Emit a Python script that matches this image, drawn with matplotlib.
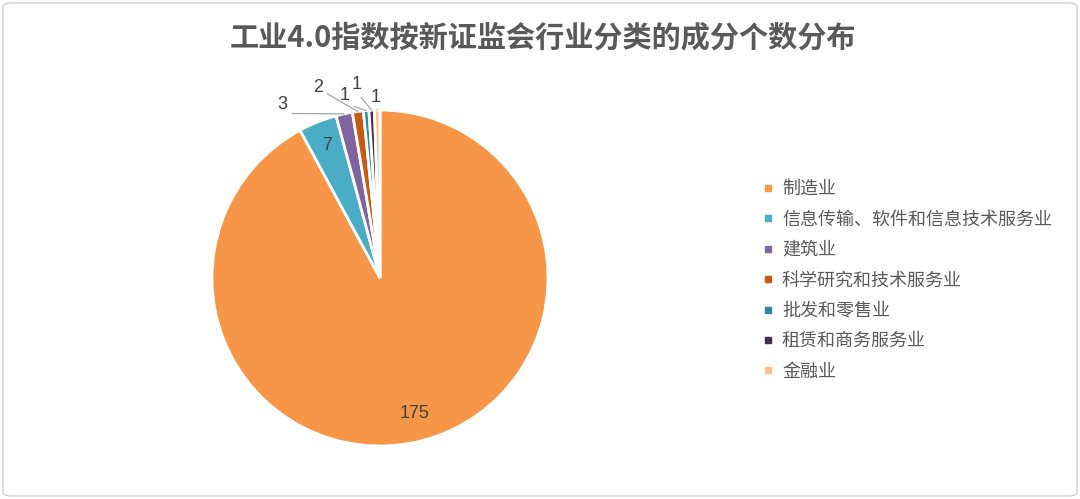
import matplotlib
matplotlib.use('Agg')
import matplotlib.pyplot as plt
from matplotlib.lines import Line2D
from matplotlib.patches import FancyBboxPatch
import numpy as np

plt.rcParams['font.family'] = ['Noto Sans CJK SC', 'DejaVu Sans']

# data
industries = ['制造业', '信息传输、软件和信息技术服务业', '建筑业', '科学研究和技术服务业',
              '批发和零售业', '租赁和商务服务业', '金融业']
counts = [175, 7, 3, 2, 1, 1, 1]
colors = ['#F79646', '#4BACC6', '#8064A2', '#C65A11', '#31859C', '#403152', '#FAC090']
title = '工业4.0指数按新证监会行业分类的成分个数分布'

# where the outside labels sit (pie units); None = inside the wedge
label_pos = [None, None, (-0.58, 1.03), (-0.369, 1.131), (-0.208, 1.089),
             (-0.137, 1.149), (-0.024, 1.077)]
line_from = [None, None, (1, 0), (1, 0.3), (0.6, 0), (0.6, 0), (0.5, 0)]
inside_r = [0.83, 0.85]

W, H = 1080, 499
fig = plt.figure(figsize=(W / 100, H / 100), dpi=100)
fig.patch.set_facecolor('white')

# frame round the picture
fig.patches.append(FancyBboxPatch((3 / W, 3 / H), 1 - 6 / W, 1 - 6 / H,
                                  boxstyle='round,pad=0,rounding_size=0.008',
                                  transform=fig.transFigure, fill=False,
                                  ec='#D0D0D0', lw=1.0))

cx, cy, R = 380, 278, 168
ax = fig.add_axes([(cx - 2 * R) / W, (H - cy - 1.3 * R) / H, 4 * R / W, 2.6 * R / H])
wedges, _ = ax.pie(counts, colors=colors, startangle=90, counterclock=False,
                   wedgeprops=dict(edgecolor='white', linewidth=2))
ax.set_xlim(-2, 2)
ax.set_ylim(-1.3, 1.3)
ax.set_aspect('auto')
ax.axis('off')

lab_font = dict(family=['Liberation Sans', 'DejaVu Sans'], fontsize=13, color='#404040')
for i, w in enumerate(wedges):
    mid = np.deg2rad((w.theta1 + w.theta2) / 2)
    if label_pos[i] is None:
        r = inside_r[i]
        ax.text(r * np.cos(mid), r * np.sin(mid), str(counts[i]),
                ha='center', va='center', **lab_font)
    else:
        ex, ey = np.cos(mid), np.sin(mid)
        ax.annotate(str(counts[i]), xy=(ex, ey), xytext=label_pos[i],
                    ha='center', va='center', **lab_font,
                    arrowprops=dict(arrowstyle='-', color='#A6A6A6', lw=0.9,
                                    shrinkA=1, shrinkB=0, relpos=line_from[i]))

fig.text(543 / W, 1 - 37 / H, title, ha='center', va='center',
         fontsize=21, color='#595959', fontweight='bold')

handles = [Line2D([], [], marker='s', linestyle='none', markersize=5,
                  markerfacecolor=c, markeredgecolor=c) for c in colors]
leg = fig.legend(handles, industries, loc='upper left',
                 bbox_to_anchor=(754 / W, 1 - 171 / H), frameon=False,
                 fontsize=13, labelspacing=0.69, handlelength=0.6,
                 handletextpad=0.45, borderpad=0)
for t in leg.get_texts():
    t.set_color('#595959')

fig.savefig('out.png', dpi=100, facecolor='white')
